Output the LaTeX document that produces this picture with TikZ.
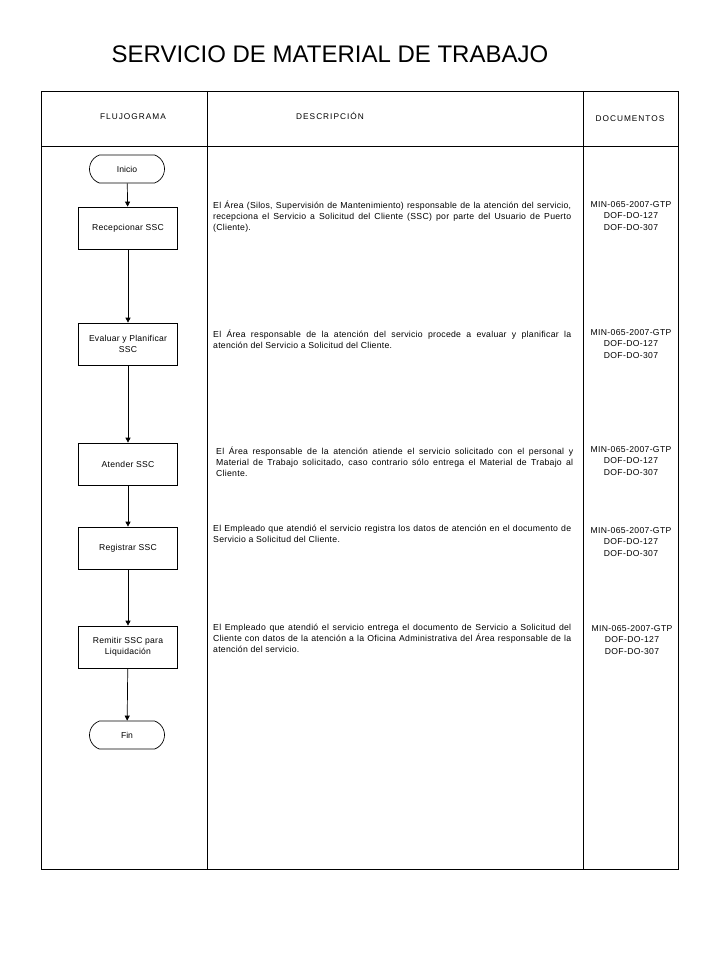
\documentclass[tikz,border=0pt]{standalone}
\usepackage{fontspec}
\setmainfont{Liberation Sans}
\usetikzlibrary{arrows.meta,shapes.misc}
\begin{document}
\begin{tikzpicture}[x=1pt,y=-1pt,
  grid/.style={line width=0.8pt},
  stepbox/.style={draw,line width=0.7pt,minimum width=99pt,minimum height=42pt,inner sep=2pt,align=center,font=\addfontfeature{LetterSpace=3}\fontsize{8.6}{11}\selectfont},
  term/.style={draw,line width=0.7pt,rounded rectangle,rounded rectangle arc length=140,minimum width=79pt,minimum height=28pt,inner sep=2pt,font=\fontsize{8.6}{10}\selectfont},
  flow/.style={line width=0.7pt,-{Triangle[length=5pt,width=5pt]}},
  desc/.style={anchor=north west,inner sep=0pt,text width=358pt,align=justify,font=\addfontfeature{LetterSpace=3}\fontsize{8.7}{11}\selectfont},
  docs/.style={anchor=north,inner sep=0pt,align=center,font=\addfontfeature{LetterSpace=4}\fontsize{8.6}{11.5}\selectfont},
  head/.style={font=\addfontfeature{LetterSpace=12}\fontsize{8.3}{9}\selectfont}]
\useasboundingbox (0,0) rectangle (720,960);
% title
\node[font=\fontsize{24}{28}\selectfont] (title) at (330,54) {SERVICIO DE MATERIAL DE TRABAJO};
% table
\draw[grid] (41,91) rectangle (678,869);
\draw[grid] (41,146) -- (678,146);
\draw[grid] (207,91) -- (207,869);
\draw[grid] (583,91) -- (583,869);
\node[head] (h1) at (133,117) {FLUJOGRAMA};
\node[head] (h2) at (330,116) {DESCRIPCIÓN};
\node[head] (h3) at (630,119) {DOCUMENTOS};
% flowchart
\node[term] (ini) at (127,169) {Inicio};
\node[stepbox] (s1) at (128,228) {Recepcionar SSC};
\node[stepbox] (s2) at (128,344) {Evaluar y Planificar\\SSC};
\node[stepbox] (s3) at (128,464) {Atender SSC};
\node[stepbox] (s4) at (128,548) {Registrar SSC};
\node[stepbox] (s5) at (128,647) {Remitir SSC para\\Liquidación};
\node[term] (fin) at (127,735) {Fin};
\draw[flow] (ini) -- (s1);
\draw[flow] (s1) -- (s2);
\draw[flow] (s2) -- (s3);
\draw[flow] (s3) -- (s4);
\draw[flow] (s4) -- (s5);
\draw[flow] (s5) -- (fin);
% descriptions
\node[desc] (d1) at (213,201) {El Área (Silos, Supervisión de Mantenimiento) responsable de la atención del servicio,\linebreak recepciona el Servicio a Solicitud del Cliente (SSC) por parte del Usuario de Puerto\linebreak (Cliente).};
\node[desc] (d2) at (213,330) {El Área responsable de la atención del servicio procede a evaluar y planificar la\linebreak atención del Servicio a Solicitud del Cliente.};
\node[desc,text width=357pt] (d3) at (216,447) {El Área responsable de la atención atiende el servicio solicitado con el personal y\linebreak Material de Trabajo solicitado, caso contrario sólo entrega el Material de Trabajo al\linebreak Cliente.};
\node[desc] (d4) at (213,525) {El Empleado que atendió el servicio registra los datos de atención en el documento de\linebreak Servicio a Solicitud del Cliente.};
\node[desc] (d5) at (213,624) {El Empleado que atendió el servicio entrega el documento de Servicio a Solicitud del\linebreak Cliente con datos de la atención a la Oficina Administrativa del Área responsable de la\linebreak atención del servicio.};
% documents
\node[docs] (c1) at (631,201) {MIN-065-2007-GTP\\DOF-DO-127\\DOF-DO-307};
\node[docs] (c2) at (631,329) {MIN-065-2007-GTP\\DOF-DO-127\\DOF-DO-307};
\node[docs] (c3) at (631,446) {MIN-065-2007-GTP\\DOF-DO-127\\DOF-DO-307};
\node[docs] (c4) at (631,527) {MIN-065-2007-GTP\\DOF-DO-127\\DOF-DO-307};
\node[docs] (c5) at (632,625) {MIN-065-2007-GTP\\DOF-DO-127\\DOF-DO-307};
\end{tikzpicture}
\end{document}
